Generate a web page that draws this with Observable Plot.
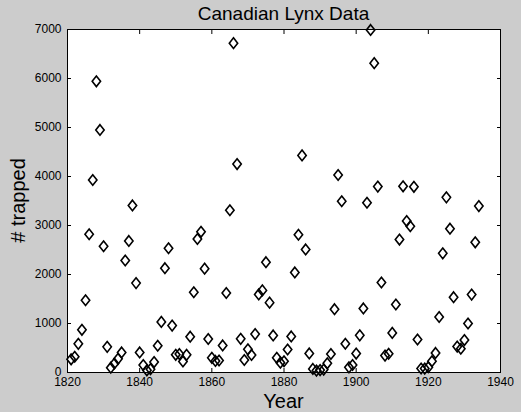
<!DOCTYPE html>
<html><head><meta charset="utf-8">
<script src="https://cdn.jsdelivr.net/npm/d3@7"></script>
<script src="https://cdn.jsdelivr.net/npm/@observablehq/plot@0.6"></script>
<style>
html,body{margin:0;padding:0;background:#cccccc;}
svg{display:block;}
</style>
</head><body><div id="chart"></div>
<script>
const titleText = "Canadian Lynx Data";
const xLabel = "Year";
const yLabel = "# trapped";
const years = [
  1821,1822,1823,1824,1825,1826,1827,1828,1829,1830,
  1831,1832,1833,1834,1835,1836,1837,1838,1839,1840,
  1841,1842,1843,1844,1845,1846,1847,1848,1849,1850,
  1851,1852,1853,1854,1855,1856,1857,1858,1859,1860,
  1861,1862,1863,1864,1865,1866,1867,1868,1869,1870,
  1871,1872,1873,1874,1875,1876,1877,1878,1879,1880,
  1881,1882,1883,1884,1885,1886,1887,1888,1889,1890,
  1891,1892,1893,1894,1895,1896,1897,1898,1899,1900,
  1901,1902,1903,1904,1905,1906,1907,1908,1909,1910,
  1911,1912,1913,1914,1915,1916,1917,1918,1919,1920,
  1921,1922,1923,1924,1925,1926,1927,1928,1929,1930,
  1931,1932,1933,1934
];
const trapped = [
  269,321,585,871,1475,2821,3928,5943,4950,2577,
  523,98,184,279,409,2285,2685,3409,1824,409,
  151,45,68,213,546,1033,2129,2536,957,361,
  377,225,360,731,1638,2725,2871,2119,684,299,
  236,245,552,1623,3311,6721,4254,687,255,473,
  358,784,1594,1676,2251,1426,756,299,201,229,
  469,736,2042,2811,4431,2511,389,73,39,49,
  59,188,377,1292,4031,3495,587,105,153,387,
  758,1307,3465,6991,6313,3794,1836,345,382,808,
  1388,2713,3800,3091,2985,3790,674,81,80,108,
  229,399,1132,2432,3574,2935,1537,529,485,662,
  1000,1590,2657,3396
];
const xTicks = [1820,1840,1860,1880,1900,1920,1940];
const yTicks = [0,1000,2000,3000,4000,5000,6000,7000];

const data = years.map((year, i) => ({year, count: trapped[i]}));

const tallDiamond = {
  draw(ctx) {
    const w = 4.2, h = 5.3;
    ctx.moveTo(0, -h); ctx.lineTo(w, 0); ctx.lineTo(0, h); ctx.lineTo(-w, 0); ctx.closePath();
  }
};

const W = 521, H = 412;
const mL = 67, mR = 21, mT = 29, mB = 40;

const chart = Plot.plot({
  width: W, height: H,
  marginLeft: mL, marginRight: mR, marginTop: mT, marginBottom: mB,
  style: {background: "#cccccc", fontFamily: "'Liberation Sans', Arial, sans-serif", fontSize: "12px", color: "black"},
  x: {domain: [1820, 1940], label: null},
  y: {domain: [0, 7000], label: null},
  marks: [
    Plot.frame({fill: "white", stroke: "none"}),
    Plot.dot(data, {x: "year", y: "count", symbol: tallDiamond, stroke: "black", strokeWidth: 1.6, fill: "none"}),
    Plot.axisX(xTicks, {anchor: "bottom", tickSize: -4, tickPadding: 9, tickFormat: d => String(d), label: null, fontSize: 12}),
    Plot.axisX(xTicks, {anchor: "top", tickSize: -4, tickFormat: () => "", label: null}),
    Plot.axisY(yTicks, {anchor: "left", tickSize: -4, tickPadding: 10, tickFormat: d => String(d), label: null, fontSize: 12}),
    Plot.axisY(yTicks, {anchor: "right", tickSize: -4, tickFormat: () => "", label: null}),
    Plot.frame({stroke: "black", strokeWidth: 1})
  ]
});

const svg = d3.select(chart);
svg.append("text")
  .attr("x", (mL + W - mR) / 2).attr("y", 20)
  .attr("text-anchor", "middle")
  .style("font-family", "'Liberation Sans', Arial, sans-serif")
  .style("font-size", "19px").attr("fill", "black")
  .text(titleText);
svg.append("text")
  .attr("x", (mL + W - mR) / 2).attr("y", 408)
  .attr("text-anchor", "middle")
  .style("font-family", "'Liberation Sans', Arial, sans-serif")
  .style("font-size", "20px").attr("fill", "black")
  .text(xLabel);
svg.append("text")
  .attr("transform", `translate(25,${(mT + H - mB) / 2}) rotate(-90)`)
  .attr("text-anchor", "middle")
  .style("font-family", "'Liberation Sans', Arial, sans-serif")
  .style("font-size", "20px").attr("fill", "black")
  .text(yLabel);

document.getElementById("chart").appendChild(chart);
</script>
</body></html>
